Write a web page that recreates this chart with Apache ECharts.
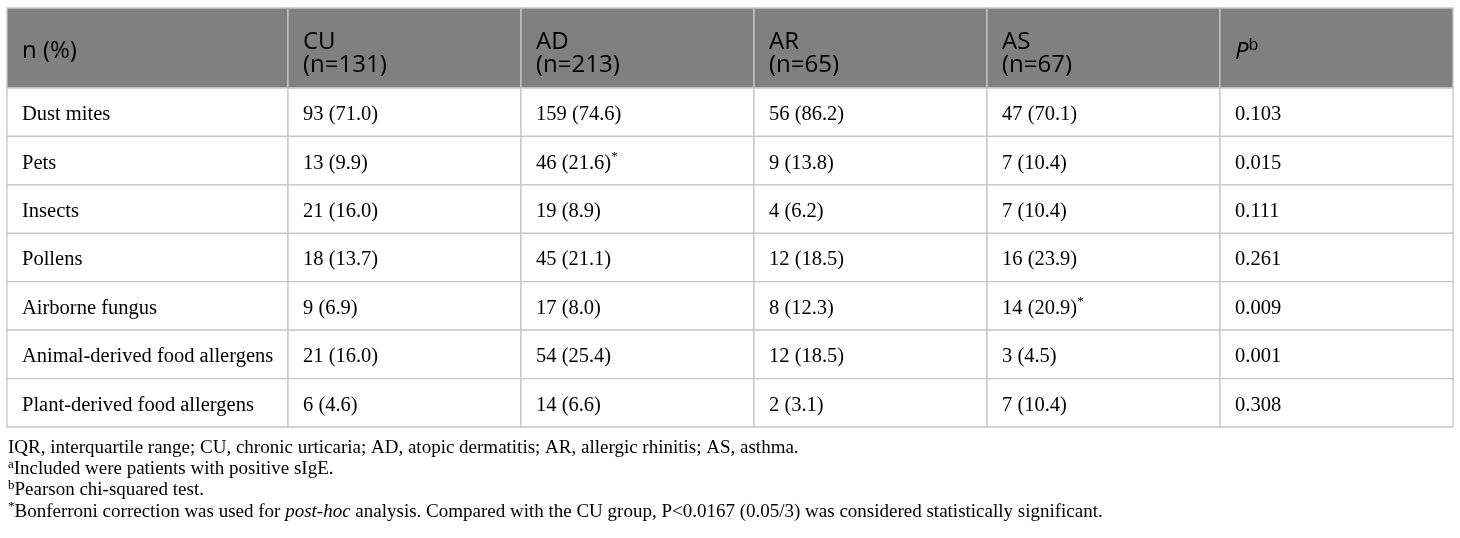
<!DOCTYPE html>
<html><head><meta charset="utf-8">
<script src="https://cdn.jsdelivr.net/npm/echarts@6/dist/echarts.min.js"></script>
<style>html,body{margin:0;padding:0;background:#fff}#c{width:1460px;height:538px}</style>
</head><body><div id="c"></div>
<script>
// ---------- data ----------
const cornerLabel = 'n (%)';
const groups = ['CU', 'AD', 'AR', 'AS'];
const groupN = [131, 213, 65, 67];
const pLabel = 'P';
const pSup = 'b';
const allergens = ['Dust mites', 'Pets', 'Insects', 'Pollens', 'Airborne fungus',
  'Animal-derived food allergens', 'Plant-derived food allergens'];
const cuCount = [93, 13, 21, 18, 9, 21, 6];
const cuPct   = [71.0, 9.9, 16.0, 13.7, 6.9, 16.0, 4.6];
const adCount = [159, 46, 19, 45, 17, 54, 14];
const adPct   = [74.6, 21.6, 8.9, 21.1, 8.0, 25.4, 6.6];
const arCount = [56, 9, 4, 12, 8, 12, 2];
const arPct   = [86.2, 13.8, 6.2, 18.5, 12.3, 18.5, 3.1];
const asCount = [47, 7, 7, 16, 14, 3, 7];
const asPct   = [70.1, 10.4, 10.4, 23.9, 20.9, 4.5, 10.4];
const cuSig = [false, false, false, false, false, false, false];
const adSig = [false, true, false, false, false, false, false];
const arSig = [false, false, false, false, false, false, false];
const asSig = [false, false, false, false, true, false, false];
const pValues = [0.103, 0.015, 0.111, 0.261, 0.009, 0.001, 0.308];
const footnotes = [
  { sup: '', text: 'IQR, interquartile range; CU, chronic urticaria; AD, atopic dermatitis; AR, allergic rhinitis; AS, asthma.' },
  { sup: 'a', text: 'Included were patients with positive sIgE.' },
  { sup: 'b', text: 'Pearson chi-squared test.' },
  { sup: '*', text: 'Bonferroni correction was used for ', italic: 'post-hoc', rest: ' analysis. Compared with the CU group, P<0.0167 (0.05/3) was considered statistically significant.' }
];

// ---------- layout ----------
const colWidths = [281, 233, 233, 233, 233, 233];
const headerH = 80;
const rowH = 339 / 7;
const colEdges = [0];
colWidths.forEach(w => colEdges.push(colEdges[colEdges.length - 1] + w));
const tableW = colEdges[colEdges.length - 1];
const tableH = headerH + rowH * allergens.length;
const rowEdge = r => (r === 0 ? 0 : headerH + (r - 1) * rowH);

const HEAD_BG = '#808080';
const BORDER = '#c6c6c6';
const TXT = '#1e1e1e';
const SANS = '"Open Sans", sans-serif';
const SERIF = '"Liberation Serif", "Times New Roman", serif';

// ---------- cells ----------
const counts = [cuCount, adCount, arCount, asCount];
const pcts = [cuPct, adPct, arPct, asPct];
const sigs = [cuSig, adSig, arSig, asSig];
const cells = [];
cells.push({ value: [0, 0], kind: 'head', text: '{h|' + cornerLabel + '}' });
groups.forEach((g, i) => {
  cells.push({ value: [i + 1, 0], kind: 'head2', text: '{h|' + g + '}\n{h|(n=' + groupN[i] + ')}' });
});
cells.push({ value: [5, 0], kind: 'head', text: '{hi|' + pLabel + '}{hs|' + pSup + '}' });
allergens.forEach((a, r) => {
  cells.push({ value: [0, r + 1], kind: 'body', text: '{t|' + a + '}' });
  groups.forEach((g, i) => {
    const s = counts[i][r] + ' (' + pcts[i][r].toFixed(1) + ')';
    cells.push({ value: [i + 1, r + 1], kind: 'body', text: '{t|' + s + '}' + (sigs[i][r] ? '{s|*}' : '') });
  });
  cells.push({ value: [5, r + 1], kind: 'body', text: '{t|' + pValues[r].toFixed(3) + '}' });
});

const rich = {
  h: { fontFamily: SANS, fontSize: 24, lineHeight: 23, color: '#fff', verticalAlign: 'middle' },
  hi: { fontFamily: SANS, fontSize: 24, fontStyle: 'italic', lineHeight: 27, color: '#fff', verticalAlign: 'bottom' },
  hs: { fontFamily: SANS, fontSize: 16, lineHeight: 17, color: '#fff', verticalAlign: 'top' },
  t: { fontFamily: SERIF, fontSize: 20.5, lineHeight: 24, color: TXT, verticalAlign: 'bottom' },
  s: { fontFamily: SERIF, fontSize: 13, lineHeight: 15, color: TXT, verticalAlign: 'top' }
};

function renderItem(params, api) {
  const cell = cells[params.dataIndex];
  const c = api.value(0), r = api.value(1);
  const p0 = api.coord([colEdges[c], rowEdge(r)]);
  const p1 = api.coord([colEdges[c + 1], rowEdge(r + 1)]);
  const x = Math.min(p0[0], p1[0]), y = Math.min(p0[1], p1[1]);
  const w = Math.abs(p1[0] - p0[0]), h = Math.abs(p1[1] - p0[1]);
  let cy = y + h / 2 + 1;
  if (cell.kind === 'head') cy = y + h / 2 + 3;
  if (cell.kind === 'head2') cy = y + h / 2 + 6;
  return {
    type: 'group',
    children: [
      { type: 'rect', shape: { x: x, y: y, width: w, height: h },
        style: { fill: r === 0 ? HEAD_BG : '#fff', stroke: BORDER, lineWidth: 1.3 } },
      { type: 'text', style: { text: cell.text, rich: rich, x: x + 15, y: cy,
        align: 'left', verticalAlign: 'middle' } }
    ]
  };
}

const fnRich = {
  t: { fontFamily: SERIF, fontSize: 19, color: TXT, lineHeight: 21, verticalAlign: 'bottom' },
  i: { fontFamily: SERIF, fontSize: 19, fontStyle: 'italic', color: TXT, lineHeight: 21, verticalAlign: 'bottom' },
  s: { fontFamily: SERIF, fontSize: 13, color: TXT, lineHeight: 13, verticalAlign: 'top' }
};
const footY = [447, 468.3, 489.5, 510.7];
const graphic = footnotes.map((f, i) => {
  let txt = (f.sup ? '{s|' + f.sup + '}' : '') + '{t|' + f.text + '}';
  if (f.italic) txt += '{i|' + f.italic + '}{t|' + f.rest + '}';
  return { type: 'text', x: 8, y: footY[i], silent: true,
    style: { text: txt, rich: fnRich, align: 'left', verticalAlign: 'middle' } };
});

const chart = echarts.init(document.getElementById('c'), null, { renderer: 'canvas' });
chart.setOption({
  animation: false,
  backgroundColor: '#fff',
  grid: { left: 7, top: 8, width: tableW, height: tableH },
  xAxis: { type: 'value', min: 0, max: tableW, show: false },
  yAxis: { type: 'value', min: 0, max: tableH, inverse: true, show: false },
  graphic: graphic,
  series: [{
    type: 'custom', silent: true, clip: false,
    renderItem: renderItem,
    data: cells
  }]
});
</script></body></html>
